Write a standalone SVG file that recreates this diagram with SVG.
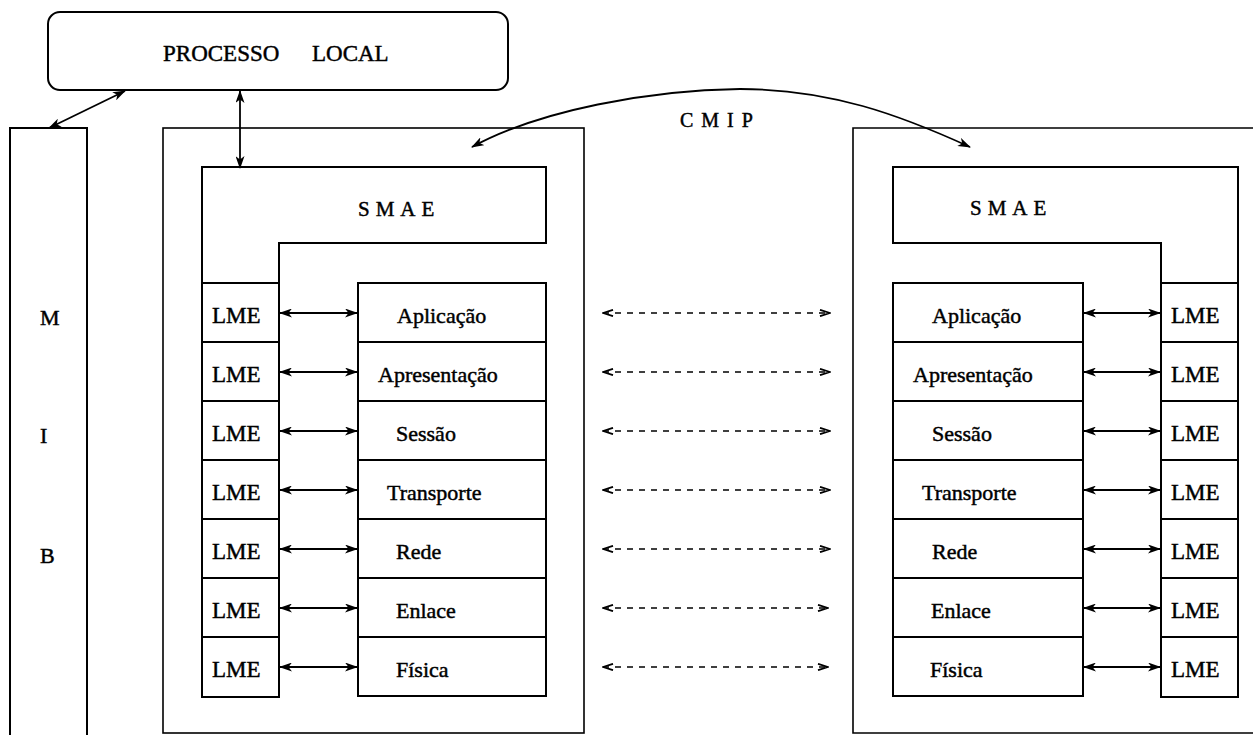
<svg xmlns="http://www.w3.org/2000/svg" width="1253" height="735" viewBox="0 0 1253 735">
  <style>
    text { font-family: "Liberation Serif", "DejaVu Serif", serif; fill: #000; stroke: #000; stroke-width: 0.45; }
    .box { fill: none; stroke: #000; stroke-width: 2; }
    .thin { fill: none; stroke: #000; stroke-width: 1.6; }
    .lbl { font-size: 22px; }
    .big { font-size: 23px; }
    .lme { font-size: 23px; }
    .spaced { font-size: 21px; letter-spacing: 6px; }
    .cmip { font-size: 20px; letter-spacing: 8px; }
    .link { fill: none; stroke: #000; stroke-width: 1.8; }
    .peer { fill: none; stroke: #000; stroke-width: 1.6; stroke-dasharray: 6 6; }
  </style>
  <defs>
    <marker id="head" viewBox="0 0 13 9" refX="12" refY="4.5" markerWidth="13" markerHeight="9" markerUnits="userSpaceOnUse" orient="auto-start-reverse">
      <path d="M0,0 L13,4.5 L0,9 L3.5,4.5 Z" fill="#000"/>
    </marker>
    <marker id="open" viewBox="0 0 12 8" refX="11" refY="4" markerWidth="12" markerHeight="8" markerUnits="userSpaceOnUse" orient="auto-start-reverse">
      <path d="M1,0.8 L11,4 L1,7.2" fill="none" stroke="#000" stroke-width="1.8"/>
    </marker>
  </defs>

  <!-- local management process -->
  <g id="processo-local">
    <rect class="box" x="48" y="12" width="460" height="78" rx="12"/>
    <text class="big" x="163" y="61">PROCESSO</text>
    <text class="big" x="312" y="61">LOCAL</text>
  </g>

  <!-- management information base -->
  <g id="mib">
    <path class="box" d="M10,740 V128 H87 V740"/>
    <text class="lbl" x="40" y="325">M</text>
    <text class="lbl" x="40" y="443">I</text>
    <text class="lbl" x="40" y="563">B</text>
  </g>

  <!-- open system A -->
  <g id="sistema-a">
    <rect class="thin" x="163" y="128" width="421" height="605"/>
  </g>
  <g id="smae-a">
    <path class="box" d="M202,167 H546 V243 H279 V697 H202 Z"/>
    <text class="spaced" x="358" y="216">SMAE</text>
  </g>
  <g id="lme-a">
    <path class="box" d="M202,283 H279 M202,342 H279 M202,401 H279 M202,460 H279 M202,519 H279 M202,578 H279 M202,637 H279"/>
    <text class="lme" x="212" y="323">LME</text>
    <text class="lme" x="212" y="382">LME</text>
    <text class="lme" x="212" y="441">LME</text>
    <text class="lme" x="212" y="500">LME</text>
    <text class="lme" x="212" y="559">LME</text>
    <text class="lme" x="212" y="618">LME</text>
    <text class="lme" x="212" y="677">LME</text>
  </g>
  <g id="camadas-a">
    <rect class="box" x="358" y="283" width="188" height="413"/>
    <path class="box" d="M358,342 H546 M358,401 H546 M358,460 H546 M358,519 H546 M358,578 H546 M358,637 H546"/>
    <text class="lbl" x="397" y="323">Aplicação</text>
    <text class="lbl" x="378" y="382">Apresentação</text>
    <text class="lbl" x="396" y="441">Sessão</text>
    <text class="lbl" x="387" y="500">Transporte</text>
    <text class="lbl" x="396" y="559">Rede</text>
    <text class="lbl" x="396" y="618">Enlace</text>
    <text class="lbl" x="396" y="677">Física</text>
  </g>

  <!-- open system B -->
  <g id="sistema-b">
    <path class="thin" d="M1260,128 H853 V733 H1260"/>
  </g>
  <g id="smae-b">
    <path class="box" d="M893,167 H1238 V697 H1161 V243 H893 Z"/>
    <text class="spaced" x="970" y="215">SMAE</text>
  </g>
  <g id="lme-b">
    <path class="box" d="M1161,283 H1238 M1161,342 H1238 M1161,401 H1238 M1161,460 H1238 M1161,519 H1238 M1161,578 H1238 M1161,637 H1238"/>
    <text class="lme" x="1171" y="323">LME</text>
    <text class="lme" x="1171" y="382">LME</text>
    <text class="lme" x="1171" y="441">LME</text>
    <text class="lme" x="1171" y="500">LME</text>
    <text class="lme" x="1171" y="559">LME</text>
    <text class="lme" x="1171" y="618">LME</text>
    <text class="lme" x="1171" y="677">LME</text>
  </g>
  <g id="camadas-b">
    <rect class="box" x="893" y="283" width="190" height="413"/>
    <path class="box" d="M893,342 H1083 M893,401 H1083 M893,460 H1083 M893,519 H1083 M893,578 H1083 M893,637 H1083"/>
    <text class="lbl" x="932" y="323">Aplicação</text>
    <text class="lbl" x="913" y="382">Apresentação</text>
    <text class="lbl" x="932" y="441">Sessão</text>
    <text class="lbl" x="922" y="500">Transporte</text>
    <text class="lbl" x="932" y="559">Rede</text>
    <text class="lbl" x="931" y="618">Enlace</text>
    <text class="lbl" x="930" y="677">Física</text>
  </g>

  <!-- CMIP label -->
  <g id="cmip">
    <text class="cmip" x="680" y="127">CMIP</text>
  </g>

  <!-- connectors -->
  <g id="connectors">
    <line class="link" x1="125" y1="91" x2="49" y2="128" marker-start="url(#head)" marker-end="url(#head)"/>
    <line class="link" x1="240" y1="91" x2="240" y2="168" marker-start="url(#head)" marker-end="url(#head)"/>
    <path class="link" d="M472,147 C540,110 650,90 740,89 C830,89 900,115 970,147" marker-start="url(#head)" marker-end="url(#head)"/>

    <!-- LME to layer, system A -->
    <line class="link" x1="280" y1="313" x2="357" y2="313" marker-start="url(#head)" marker-end="url(#head)"/>
    <line class="link" x1="280" y1="372" x2="357" y2="372" marker-start="url(#head)" marker-end="url(#head)"/>
    <line class="link" x1="280" y1="431" x2="357" y2="431" marker-start="url(#head)" marker-end="url(#head)"/>
    <line class="link" x1="280" y1="490" x2="357" y2="490" marker-start="url(#head)" marker-end="url(#head)"/>
    <line class="link" x1="280" y1="549" x2="357" y2="549" marker-start="url(#head)" marker-end="url(#head)"/>
    <line class="link" x1="280" y1="608" x2="357" y2="608" marker-start="url(#head)" marker-end="url(#head)"/>
    <line class="link" x1="280" y1="667" x2="357" y2="667" marker-start="url(#head)" marker-end="url(#head)"/>

    <!-- peer layer exchanges -->
    <line class="peer" x1="603" y1="313" x2="830" y2="313" marker-start="url(#open)" marker-end="url(#open)"/>
    <line class="peer" x1="603" y1="372" x2="830" y2="372" marker-start="url(#open)" marker-end="url(#open)"/>
    <line class="peer" x1="603" y1="431" x2="830" y2="431" marker-start="url(#open)" marker-end="url(#open)"/>
    <line class="peer" x1="603" y1="490" x2="830" y2="490" marker-start="url(#open)" marker-end="url(#open)"/>
    <line class="peer" x1="603" y1="549" x2="830" y2="549" marker-start="url(#open)" marker-end="url(#open)"/>
    <line class="peer" x1="603" y1="608" x2="828" y2="608" marker-start="url(#open)" marker-end="url(#open)"/>
    <line class="peer" x1="603" y1="667" x2="828" y2="667" marker-start="url(#open)" marker-end="url(#open)"/>

    <!-- layer to LME, system B -->
    <line class="link" x1="1084" y1="313" x2="1160" y2="313" marker-start="url(#head)" marker-end="url(#head)"/>
    <line class="link" x1="1084" y1="372" x2="1160" y2="372" marker-start="url(#head)" marker-end="url(#head)"/>
    <line class="link" x1="1084" y1="431" x2="1160" y2="431" marker-start="url(#head)" marker-end="url(#head)"/>
    <line class="link" x1="1084" y1="490" x2="1160" y2="490" marker-start="url(#head)" marker-end="url(#head)"/>
    <line class="link" x1="1084" y1="549" x2="1160" y2="549" marker-start="url(#head)" marker-end="url(#head)"/>
    <line class="link" x1="1084" y1="608" x2="1160" y2="608" marker-start="url(#head)" marker-end="url(#head)"/>
    <line class="link" x1="1084" y1="667" x2="1160" y2="667" marker-start="url(#head)" marker-end="url(#head)"/>
  </g>
</svg>
